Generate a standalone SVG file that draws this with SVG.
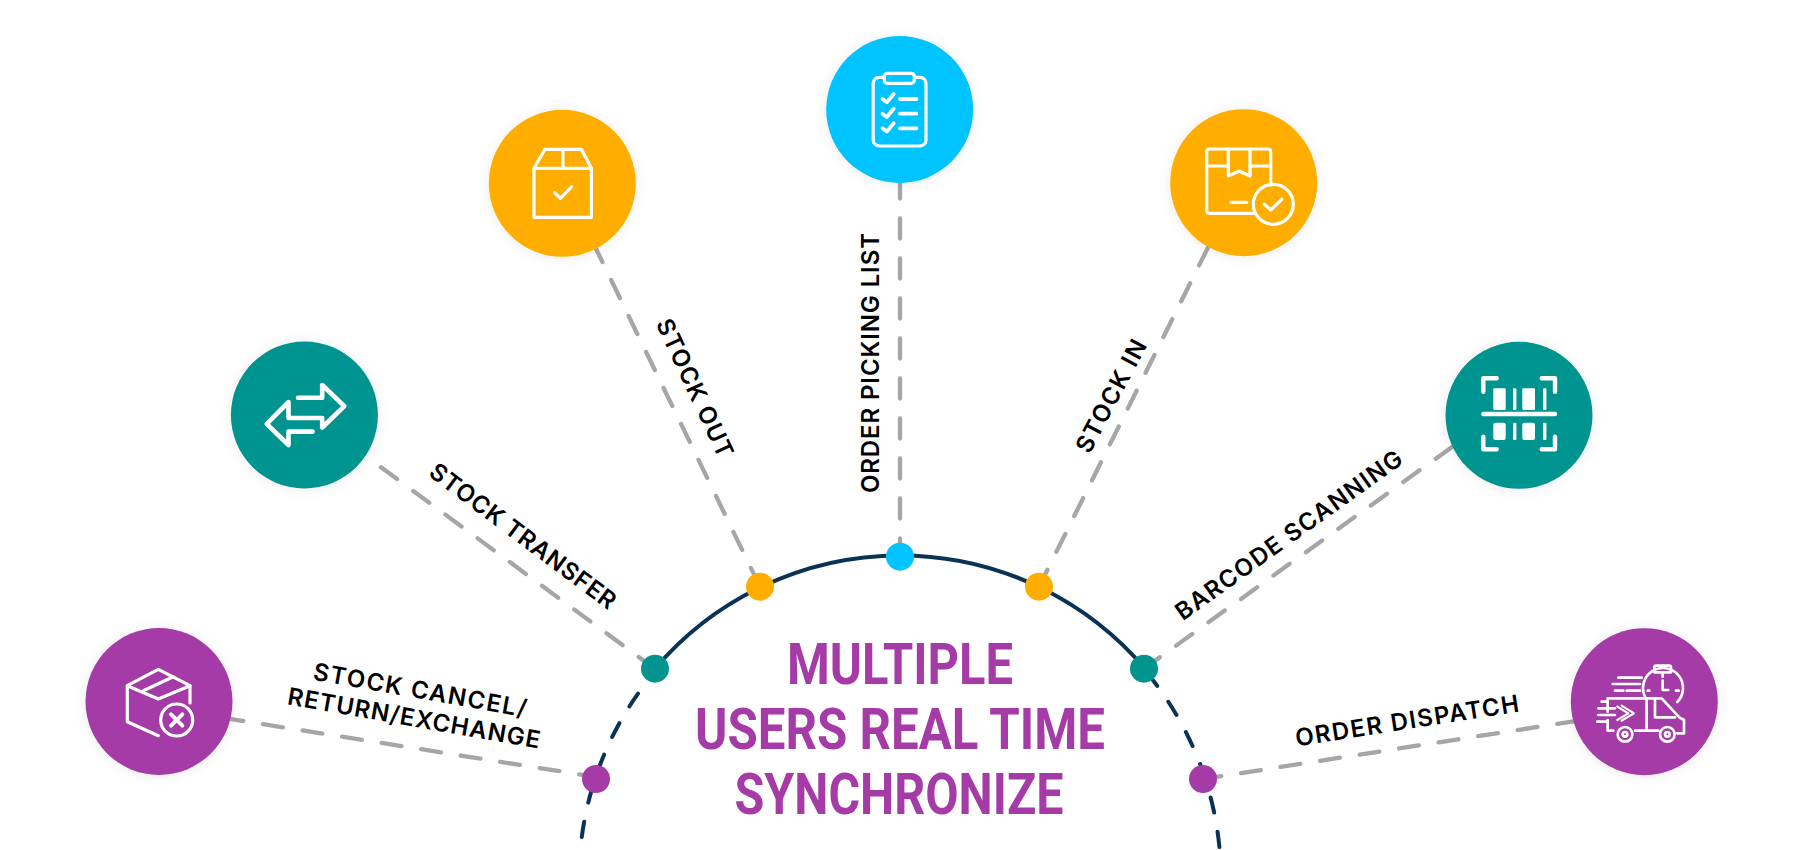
<svg xmlns="http://www.w3.org/2000/svg" width="1800" height="850" viewBox="0 0 1800 850">
  <style>
    .hub { fill: none; stroke: #0a3254; stroke-width: 4; stroke-linecap: round; }
    .hub-dash { stroke-dasharray: 15.5 19.5; }
    .spoke { fill: none; stroke: #a6a6a6; stroke-width: 4.3; stroke-linecap: round; stroke-dasharray: 20 20; }
    .purple { fill: #a43ba6; }
    .teal { fill: #039490; }
    .amber { fill: #ffae00; }
    .sky { fill: #00c4ff; }
    .disc { filter: url(#soft); }
    .icon { fill: none; stroke: #fff; stroke-width: 3.2; stroke-linecap: round; stroke-linejoin: round; }
    .solid { fill: #fff; stroke: none; }
    .label { font-family: "Inter", "Liberation Sans", sans-serif; font-weight: 600; font-size: 24px; fill: #000; text-anchor: middle; }
    .title { font-family: "Roboto", "Liberation Sans", sans-serif; font-weight: 700; font-size: 58px; fill: #a43ba6; text-anchor: middle; }
  </style>
  <defs>
    <filter id="soft" x="-20%" y="-20%" width="140%" height="140%">
      <feDropShadow dx="0" dy="1" stdDeviation="6" flood-color="#000" flood-opacity="0.08"/>
    </filter>
  </defs>
  <rect width="1800" height="850" fill="#fff"/>

  <g id="connectors">
    <path class="hub" d="M655 668.7 A321.5 321.5 0 0 1 1145 668.7"/>
    <path class="hub hub-dash" d="M638 693.6 A321.5 321.5 0 0 0 580 854"/>
    <path class="hub hub-dash" d="M1147.6 673.6 A321.5 321.5 0 0 1 1220 854"/>
    <line class="spoke" x1="223.6" y1="717.9" x2="596" y2="777"/>
    <line class="spoke" x1="381" y1="467.2" x2="655" y2="669"/>
    <line class="spoke" x1="593.7" y1="244" x2="760" y2="586.7"/>
    <line class="spoke" x1="900" y1="178.5" x2="900" y2="556.7"/>
    <line class="spoke" x1="1208" y1="247.5" x2="1039" y2="586.7"/>
    <line class="spoke" x1="1452" y1="447" x2="1144" y2="668.7"/>
    <line class="spoke" x1="1577" y1="720.8" x2="1203" y2="779"/>
  </g>

  <g id="node-stock-cancel">
    <circle class="purple disc" cx="159" cy="701.5" r="73.5"/>
    <g class="icon">
      <path d="M158.3 669.3 L190 685.7 L158.3 699 L127.3 685.7 Z"/>
      <path d="M127.3 685.7 V721.7 L158.3 735.7"/>
      <path d="M190 685.7 V703"/>
      <path d="M173.3 676.7 L143.3 690.7"/>
      <circle cx="176.7" cy="720" r="16"/>
      <path d="M171 714.3 L182.4 725.7 M182.4 714.3 L171 725.7" style="stroke-width:3.8"/>
    </g>
    <circle class="purple" cx="596" cy="779" r="14"/>
    <g class="label" transform="translate(420 690) rotate(10)"><text y="8.5" textLength="216">STOCK CANCEL/</text></g>
    <g class="label" transform="translate(414 718) rotate(10)"><text y="8.5" textLength="256">RETURN/EXCHANGE</text></g>
  </g>

  <g id="node-stock-transfer">
    <circle class="teal disc" cx="304.4" cy="415" r="73.5"/>
    <path class="icon" style="stroke-width:4.6" d="M298 397.8 H322.2 V385 L344.3 406.2 L322.2 427.5 V418 H288.5 V402 L266.7 423.8 L288.5 445 V431.6 H312.6"/>
    <circle class="teal" cx="655" cy="668.7" r="14"/>
    <g class="label" transform="translate(523 536) rotate(36.8)"><text y="8.5" textLength="226">STOCK TRANSFER</text></g>
  </g>

  <g id="node-stock-out">
    <circle class="amber disc" cx="562.3" cy="183.3" r="73.5"/>
    <g class="icon">
      <path d="M534 168.3 H591.4 V217.3 H534 Z"/>
      <path d="M534 168.3 L545 149.3 H581.4 L591.4 168.3"/>
      <path d="M562.9 149.3 V168.3"/>
      <path d="M554.6 192.7 L560.4 198.3 L571.8 186.7"/>
    </g>
    <circle class="amber" cx="760" cy="586.7" r="14"/>
    <g class="label" transform="translate(695 388) rotate(65)"><text y="8.5" textLength="150">STOCK OUT</text></g>
  </g>

  <g id="node-order-picking-list">
    <circle class="sky disc" cx="899.7" cy="109.5" r="73.5"/>
    <g class="icon">
      <rect x="873.2" y="77.3" width="52.8" height="68.7" rx="6"/>
      <rect x="884.3" y="73.3" width="30" height="10" rx="3" fill="#00c4ff"/>
      <path style="stroke-width:3.8" d="M882.5 99 L886.8 102.3 L893.6 94 M882.5 113.7 L886.8 117 L893.6 108.7 M882.5 128.3 L886.8 131.6 L893.6 123.3"/>
      <path style="stroke-width:3.8" d="M900 99 H916.4 M900 113.7 H916.4 M900 128.3 H916.4"/>
    </g>
    <circle class="sky" cx="900" cy="556.7" r="14"/>
    <g class="label" transform="translate(870.8 363) rotate(-90)"><text y="8.5" textLength="260">ORDER PICKING LIST</text></g>
  </g>

  <g id="node-stock-in">
    <circle class="amber disc" cx="1243.7" cy="182.7" r="73.5"/>
    <g class="icon">
      <path d="M1270.7 185 V152 Q1270.7 149 1267.7 149 H1209.7 Q1206.7 149 1206.7 152 V210.3 Q1206.7 213.3 1209.7 213.3 H1253.3"/>
      <path d="M1206.7 166 H1228.3 M1250 166 H1270.7"/>
      <path d="M1228.3 149 V176 L1239 171 L1250 176 V149"/>
      <path d="M1231 202.3 H1246.7"/>
      <circle cx="1273.3" cy="204.3" r="20"/>
      <path d="M1264.3 204.3 L1270.7 210 L1281.7 199.3"/>
    </g>
    <circle class="amber" cx="1039" cy="586.7" r="14"/>
    <g class="label" transform="translate(1111 396) rotate(-62)"><text y="8.5" textLength="124">STOCK IN</text></g>
  </g>

  <g id="node-barcode-scanning">
    <circle class="teal disc" cx="1519" cy="415.3" r="73.5"/>
    <g class="icon" style="stroke-width:4.4">
      <path d="M1496.7 378.3 H1483.3 V391.7 M1541.7 378.3 H1555 V391.7 M1496.7 449.3 H1483.3 V436.7 M1541.7 449.3 H1555 V436.7"/>
      <path d="M1483.3 414 H1555"/>
    </g>
    <g class="solid">
      <rect x="1493.3" y="388.3" width="12.4" height="21.7" rx="1"/>
      <rect x="1513" y="388.3" width="3.4" height="21.7" rx="1"/>
      <rect x="1522.3" y="388.3" width="12.7" height="21.7" rx="1"/>
      <rect x="1543" y="388.3" width="3.4" height="21.7" rx="1"/>
      <rect x="1493.3" y="422.7" width="12.4" height="17.3" rx="2"/>
      <rect x="1513" y="422.7" width="3.4" height="17.3" rx="1"/>
      <rect x="1522.3" y="422.7" width="12.7" height="17.3" rx="2"/>
      <rect x="1543" y="422.7" width="3.4" height="17.3" rx="1"/>
    </g>
    <circle class="teal" cx="1144" cy="668.7" r="14"/>
    <g class="label" transform="translate(1288.7 535) rotate(-35.6)"><text y="8.5" textLength="273">BARCODE SCANNING</text></g>
  </g>

  <g id="node-order-dispatch">
    <circle class="purple disc" cx="1644.3" cy="701.7" r="73.5"/>
    <g class="icon" transform="translate(1560 640) scale(.3333)" style="stroke-width:8">
      <path d="M283 97 V82 Q283 77 288 77 H328 Q333 77 333 82 V97 Z"/>
      <path d="M256 172 A60 60 0 1 1 352 186"/>
      <path d="M308 102 V110 M308 122 V150 H325 M263 152 H268 M348 152 H356"/>
      <path d="M175 113 H245 M158 132 H240 M165 152 H190 M200 152 H240"/>
      <path d="M143 215 V175 H305 L358 232 L372 240 V280 H352"/>
      <path d="M143 240 V272 H160 M225 272 H295 M260 175 V272"/>
      <path d="M285 180 V232 H345"/>
      <path d="M185 197 L222 220 L185 242 M172 200 L205 220 L172 240" style="stroke-width:6.5"/>
      <path d="M125 185 H143 M115 205 H140 M150 205 H165 M115 225 H165 M112 245 H140"/>
      <circle cx="195" cy="283" r="22"/>
      <circle cx="195" cy="283" r="7"/>
      <circle cx="322" cy="283" r="22"/>
      <circle cx="322" cy="283" r="7"/>
    </g>
    <circle class="purple" cx="1203" cy="779" r="14"/>
    <g class="label" transform="translate(1407 720.5) rotate(-8.9)"><text y="8.5" textLength="226">ORDER DISPATCH</text></g>
  </g>

  <g id="title">
    <text class="title" x="900" y="684" textLength="226" lengthAdjust="spacingAndGlyphs">MULTIPLE</text>
    <text class="title" x="900" y="749" textLength="410" lengthAdjust="spacingAndGlyphs">USERS REAL TIME</text>
    <text class="title" x="899" y="814" textLength="329" lengthAdjust="spacingAndGlyphs">SYNCHRONIZE</text>
  </g>
</svg>
